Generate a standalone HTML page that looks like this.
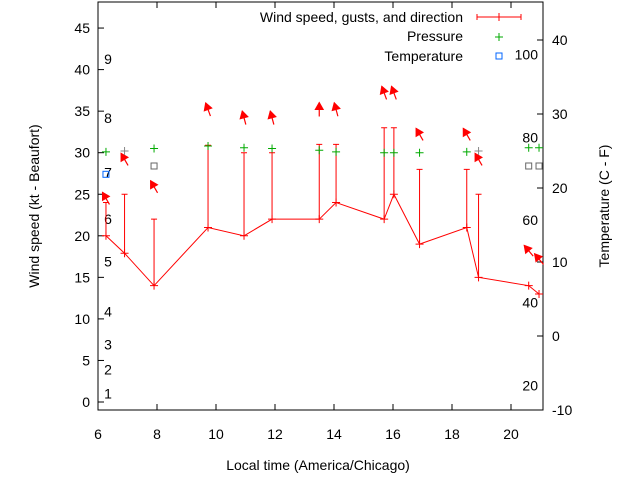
<!DOCTYPE html>
<html><head><meta charset="utf-8"><style>
html,body{margin:0;padding:0;background:#fff}
svg{display:block;font-family:"Liberation Sans",sans-serif}
</style></head><body>
<svg id="chart" width="640" height="480" xmlns="http://www.w3.org/2000/svg"></svg>
<script>
const hours=[6.27,6.9,7.9,9.73,10.95,11.9,13.5,14.07,15.7,16.03,16.9,18.5,18.9,20.6,20.95];
const wind=[20,17.9,14,21,20,22,22,24,22,25,19,21,15,14,13];
const gusts=[24,25,22,30.9,30,30,31,31,33,33,28,28,25,null,null];
const pressure=[30.1,30.2,30.5,30.8,30.6,30.5,30.3,30.1,30.0,30.0,30.0,30.1,30.2,30.6,30.6];
const pressureGrey=[false,true,false,false,false,false,false,false,false,false,false,false,true,false,false];
const arrowLevel=[24.5,29.2,25.9,35.2,34.2,34.2,35.2,35.2,37.2,37.2,32.2,32.2,29.2,18.2,17.2];
const arrowDir=[-30,-30,-30,-20,-15,-15,0,-15,-20,-20,-30,-30,-30,-40,-40];
const tempHours=[6.27,7.9,20.6,20.95];
const tempVals=[27.4,28.4,28.4,28.4];
const tempGrey=[false,true,true,true];
const xTicks=[6,8,10,12,14,16,18,20];
const yTicks=[0,5,10,15,20,25,30,35,40,45];
const y2Ticks=[-10,0,10,20,30,40];
const beaufort=[[1,1],[2,3.9],[3,6.9],[4,10.9],[5,16.9],[6,22],[7,27.6],[8,34.2],[9,41.3]];
const fLabels=[[100,41.8],[80,31.8],[60,21.9],[40,12.0],[20,2.0]];

const L=98,R=543,T=2,B=410;
const X=h=>L+(h-6)*29.5;
const Y=v=>402-v*8.31;
const Y2=c=>410-(c+10)*7.4;
const svg=document.getElementById('chart');
const NS='http://www.w3.org/2000/svg';
function mk(tag,a,p){const e=document.createElementNS(NS,tag);for(const k in a)e.setAttribute(k,a[k]);(p||svg).appendChild(e);return e;}
function txt(x,y,s,anchor,size,p){const e=mk('text',{x:x,y:y,'text-anchor':anchor||'middle','font-size':size||14,fill:'#000'},p);e.textContent=s;return e;}

const frame=mk('rect',{x:L,y:T,width:R-L,height:B-T,fill:'none',stroke:'#000','stroke-width':1});



const gx=mk('g',{});


xTicks.forEach(t=>{const x=X(t);mk('line',{x1:x,y1:B,x2:x,y2:B-6,stroke:'#000'},gx);mk('line',{x1:x,y1:T,x2:x,y2:T+6,stroke:'#000'},gx);txt(x,439,t,'middle',14,gx);});
const gy=mk('g',{});


yTicks.forEach(t=>{const y=Y(t);mk('line',{x1:L,y1:y,x2:L+6,y2:y,stroke:'#000'},gy);txt(L-8,y+5,t,'end',14,gy);});
const gy2=mk('g',{});


y2Ticks.forEach(t=>{const y=Y2(t);mk('line',{x1:R,y1:y,x2:R-6,y2:y,stroke:'#000'},gy2);txt(R+9,y+5,t,'start',14,gy2);});

const xt=txt(318,470,'Local time (America/Chicago)','middle',14);


const yt=txt(0,0,'Wind speed (kt - Beaufort)','middle',14);
yt.setAttribute('transform','translate(39,206) rotate(-90)');


const yt2=txt(0,0,'Temperature (C - F)','middle',14);
yt2.setAttribute('transform','translate(609,206) rotate(-90)');



const gb=mk('g',{});


beaufort.forEach(b=>txt(108,Y(b[1])+5,b[0],'middle',14,gb));
const gf=mk('g',{});


fLabels.forEach(f=>txt(538,Y(f[1])+5,f[0],'end',14,gf));

const gw=mk('g',{});


mk('polyline',{points:hours.map((h,i)=>X(h)+','+Y(wind[i])).join(' '),fill:'none',stroke:'#f00','stroke-width':1},gw);
hours.forEach((h,i)=>{const x=X(h),y=Y(wind[i]);
 const c=mk('path',{d:`M${x-4},${y}h8M${x},${y-4}v8`,stroke:'#f00'},gw);
 
 
 if(gusts[i]!=null){const gy_=Y(gusts[i]);
  const e=mk('path',{d:`M${x},${y}V${gy_}M${x-3},${gy_}h6`,stroke:'#f00'},gw);
  
  }
});
const ga=mk('g',{});


hours.forEach((h,i)=>{const cx=X(h),cy=Y(arrowLevel[i]);const a=arrowDir[i]*Math.PI/180;
 const dx=Math.sin(a)*7,dy=-Math.cos(a)*7;
 const hx=cx+dx,hy=cy+dy,tx=cx-dx,ty=cy-dy;
 const ux=dx/7,uy=dy/7,px=-uy,py=ux;
 const g=mk('g',{},ga);
 
 
 mk('line',{x1:tx,y1:ty,x2:hx,y2:hy,stroke:'#f00','stroke-width':1.2},g);
 mk('polygon',{points:`${hx},${hy} ${hx-ux*7+px*4},${hy-uy*7+py*4} ${hx-ux*7-px*4},${hy-uy*7-py*4}`,fill:'#f00',stroke:'#f00'},g);
});
const gp=mk('g',{});


hours.forEach((h,i)=>{const x=X(h),y=Y(pressure[i]);
 const p=mk('path',{d:`M${x-4},${y}h8M${x},${y-4}v8`,stroke:pressureGrey[i]?'#888':'#0a0'},gp);
 
 });
const gt=mk('g',{});


tempHours.forEach((h,i)=>{const x=X(h),y=Y(tempVals[i]);
 const r=mk('rect',{x:x-3,y:y-3,width:6,height:6,fill:'none',stroke:tempGrey[i]?'#666':'#06f'},gt);
 
 });

const lg=mk('g',{});


txt(463,22,'Wind speed, gusts, and direction','end',14,lg);
mk('path',{d:'M477,17h44M477,14v6M521,14v6M499,13v8',stroke:'#f00'},lg);
txt(463,41,'Pressure','end',14,lg);
mk('path',{d:'M495,37h8M499,33v8',stroke:'#0a0'},lg);
txt(463,61,'Temperature','end',14,lg);
mk('rect',{x:496,y:53,width:6,height:6,fill:'none',stroke:'#06f'},lg);
</script>
</body></html>
